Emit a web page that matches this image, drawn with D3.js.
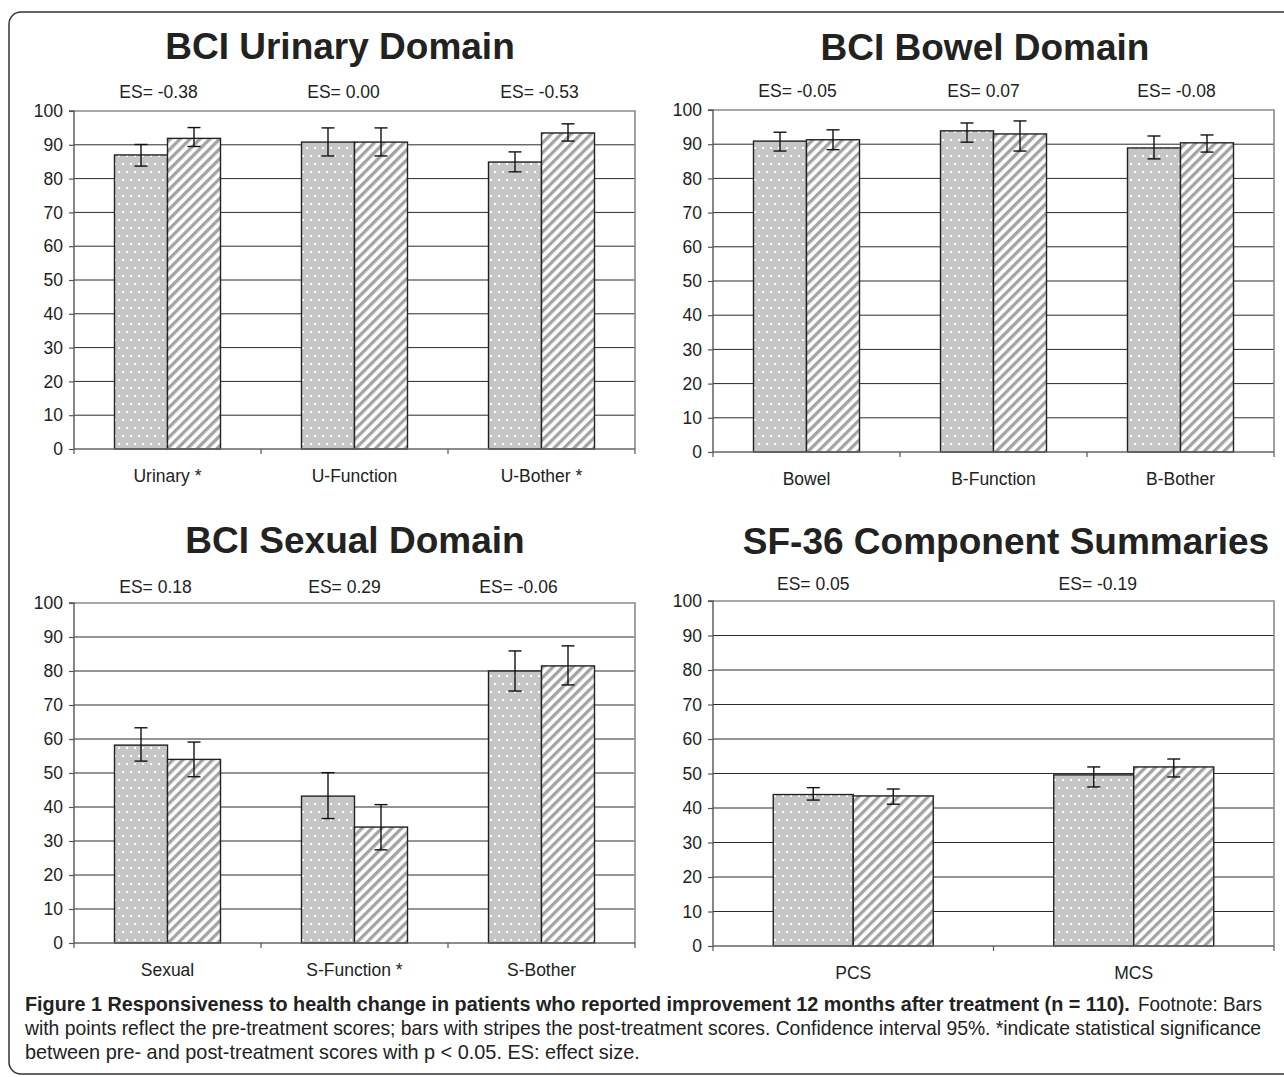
<!DOCTYPE html>
<html><head><meta charset="utf-8">
<script src="https://cdn.jsdelivr.net/npm/d3@7"></script>
<style>
html,body{margin:0;padding:0;background:#fff;}
svg{display:block;}
text{font-family:"Liberation Sans",Arial,Helvetica,sans-serif;fill:#222;}
</style></head>
<body>
<svg id="fig" width="1284" height="1077"></svg>
<script>
// ---------- DATA ----------
const yTicks = [0,10,20,30,40,50,60,70,80,90,100];

const urinaryCats   = ["Urinary *","U-Function","U-Bother *"];
const urinaryES     = ["ES= -0.38","ES= 0.00","ES= -0.53"];
const urinaryPre    = [87.0, 90.8, 84.9];
const urinaryPreCI  = [[83.7,90.1],[86.7,95.0],[82.0,87.9]];
const urinaryPost   = [91.9, 90.8, 93.5];
const urinaryPostCI = [[89.5,95.1],[86.7,95.0],[91.1,96.2]];

const bowelCats   = ["Bowel","B-Function","B-Bother"];
const bowelES     = ["ES= -0.05","ES= 0.07","ES= -0.08"];
const bowelPre    = [90.9, 93.9, 88.9];
const bowelPreCI  = [[88.0,93.5],[90.6,96.2],[85.7,92.4]];
const bowelPost   = [91.3, 93.0, 90.4];
const bowelPostCI = [[88.4,94.2],[88.0,96.8],[87.7,92.7]];

const sexualCats   = ["Sexual","S-Function *","S-Bother"];
const sexualES     = ["ES= 0.18","ES= 0.29","ES= -0.06"];
const sexualPre    = [58.2, 43.2, 80.0];
const sexualPreCI  = [[53.5,63.3],[36.6,50.1],[74.1,85.9]];
const sexualPost   = [54.0, 34.1, 81.5];
const sexualPostCI = [[48.9,59.1],[27.4,40.7],[75.9,87.4]];

const sfCats   = ["PCS","MCS"];
const sfES     = ["ES= 0.05","ES= -0.19"];
const sfPre    = [43.9, 49.6];
const sfPreCI  = [[42.3,45.9],[46.1,51.9]];
const sfPost   = [43.5, 51.9];
const sfPostCI = [[41.1,45.5],[49.0,54.2]];

const titles = ["BCI Urinary Domain","BCI Bowel Domain","BCI Sexual Domain","SF-36 Component Summaries"];

const captionBold = "Figure 1 Responsiveness to health change in patients who reported improvement 12 months after treatment (n = 110).";
const captionLines = [
  "Footnote: Bars",
  "with points reflect the pre-treatment scores; bars with stripes the post-treatment scores. Confidence interval 95%. *indicate statistical significance",
  "between pre- and post-treatment scores with p < 0.05. ES: effect size."
];

// ---------- LAYOUT ----------
const svg = d3.select("#fig");
const defs = svg.append("defs");

// dotted pattern (pre)
const pd = defs.append("pattern").attr("id","dots").attr("patternUnits","userSpaceOnUse")
  .attr("width",8).attr("height",16);
pd.append("rect").attr("width",8).attr("height",16).attr("fill","#c6c6c6");
pd.append("rect").attr("x",2).attr("y",3).attr("width",2).attr("height",2).attr("fill","#fff");
pd.append("rect").attr("x",6).attr("y",11).attr("width",2).attr("height",2).attr("fill","#fff");
// striped pattern (post)
const ps = defs.append("pattern").attr("id","stripes").attr("patternUnits","userSpaceOnUse")
  .attr("width",7).attr("height",7).attr("patternTransform","rotate(45)");
ps.append("rect").attr("width",7).attr("height",7).attr("fill","#fff");
ps.append("rect").attr("x",0).attr("width",3.3).attr("height",7).attr("fill","#a3a3a3");

// outer border
svg.append("rect").attr("x",9).attr("y",12).attr("width",1300).attr("height",1062)
  .attr("rx",12).attr("fill","none").attr("stroke","#333").attr("stroke-width",1.5);

const panels = [
  {cats:urinaryCats, es:urinaryES, pre:urinaryPre, preCI:urinaryPreCI, post:urinaryPost, postCI:urinaryPostCI,
   x0:74, x1:635, y0:449, y1:111, title:titles[0], tx:340, ty:59, esY:98, esDx:[-9,-11,-2], barW:53},
  {cats:bowelCats, es:bowelES, pre:bowelPre, preCI:bowelPreCI, post:bowelPost, postCI:bowelPostCI,
   x0:713, x1:1274, y0:452, y1:110, title:titles[1], tx:985, ty:60, esY:97, esDx:[-9,-10,-4], barW:53},
  {cats:sexualCats, es:sexualES, pre:sexualPre, preCI:sexualPreCI, post:sexualPost, postCI:sexualPostCI,
   x0:74, x1:635, y0:943, y1:603, title:titles[2], tx:355, ty:553, esY:593, esDx:[-12,-10,-23], barW:53},
  {cats:sfCats, es:sfES, pre:sfPre, preCI:sfPreCI, post:sfPost, postCI:sfPostCI,
   x0:713, x1:1274, y0:946, y1:601, title:titles[3], tx:1006, ty:554, esY:590, esDx:[-40,-36], barW:80}
];

panels.forEach(p => {
  const g = svg.append("g");
  const x = d3.scaleBand().domain(p.cats).range([p.x0,p.x1]);
  const y = d3.scaleLinear().domain([0,100]).range([p.y0,p.y1]);

  // gridlines
  g.append("g").selectAll("line").data(yTicks.filter(t=>t>0 && t<100)).join("line")
    .attr("x1",p.x0).attr("x2",p.x1).attr("y1",d=>y(d)).attr("y2",d=>y(d))
    .attr("stroke","#2a2a2a").attr("stroke-width",1);
  // plot area top/right border
  g.append("path").attr("d",`M${p.x0},${y(100)}H${p.x1}V${y(0)}`)
    .attr("fill","none").attr("stroke","#8a8a8a").attr("stroke-width",1.6);

  // bars
  const bw = p.barW;
  const series = [
    {vals:p.pre, ci:p.preCI, fill:"url(#dots)", off:-bw},
    {vals:p.post, ci:p.postCI, fill:"url(#stripes)", off:0}
  ];
  series.forEach(s => {
    const cx = (d,i) => x(p.cats[i]) + x.bandwidth()/2 + s.off;
    g.append("g").selectAll("rect").data(s.vals).join("rect")
      .attr("x",(d,i)=>cx(d,i)).attr("y",d=>y(d)).attr("width",bw).attr("height",d=>y(0)-y(d))
      .attr("fill",s.fill).attr("stroke","#222").attr("stroke-width",1.4);
  });
  series.forEach(s => {
    const mx = (i) => x(p.cats[i]) + x.bandwidth()/2 + s.off + bw/2;
    const eg = g.append("g").attr("stroke","#111").attr("stroke-width",1.4);
    s.ci.forEach((c,i) => {
      eg.append("line").attr("x1",mx(i)).attr("x2",mx(i)).attr("y1",y(c[0])).attr("y2",y(c[1]));
      eg.append("line").attr("x1",mx(i)-6.5).attr("x2",mx(i)+6.5).attr("y1",y(c[0])).attr("y2",y(c[0]));
      eg.append("line").attr("x1",mx(i)-6.5).attr("x2",mx(i)+6.5).attr("y1",y(c[1])).attr("y2",y(c[1]));
    });
  });

  // y axis
  const ya = d3.axisLeft(y).tickValues(yTicks).tickSize(5).tickPadding(6).tickFormat(d3.format("d"));
  const yg = g.append("g").attr("transform",`translate(${p.x0},0)`).call(ya);
  yg.select(".domain").attr("stroke","#555").attr("stroke-width",1.4).attr("d",`M-5,${y(100)}H0V${y(0)}`);
  yg.selectAll(".tick line").attr("stroke","#555").attr("stroke-width",1.2);
  yg.selectAll(".tick text").attr("font-size",17.5).attr("font-family","Liberation Sans, Arial, sans-serif").attr("fill","#222");

  // x axis (ticks at band boundaries)
  const xg = g.append("g");
  xg.append("line").attr("x1",p.x0).attr("x2",p.x1).attr("y1",y(0)).attr("y2",y(0))
    .attr("stroke","#666").attr("stroke-width",1.4);
  const bounds = p.cats.map(c=>x(c)).concat([p.x1]);
  xg.selectAll("line.tk").data(bounds).join("line").attr("class","tk")
    .attr("x1",d=>d).attr("x2",d=>d).attr("y1",y(0)).attr("y2",y(0)+5)
    .attr("stroke","#555").attr("stroke-width",1.2);
  xg.selectAll("text").data(p.cats).join("text")
    .attr("x",d=>x(d)+x.bandwidth()/2).attr("y",y(0)+33)
    .attr("text-anchor","middle").attr("font-size",17.5).text(d=>d);

  // ES labels
  g.append("g").selectAll("text").data(p.es).join("text")
    .attr("x",(d,i)=>x(p.cats[i])+x.bandwidth()/2+p.esDx[i]).attr("y",p.esY)
    .attr("text-anchor","middle").attr("font-size",17.5).text(d=>d);

  // title
  g.append("text").attr("x",p.tx).attr("y",p.ty).attr("text-anchor","middle")
    .attr("font-size",37).attr("font-weight","bold").attr("fill","#1a1a1a").text(p.title);
});

// caption: condensed look via horizontal scaling to the reference widths
function capLine(str, x, y, target, bold, color){
  const t = svg.append("text").attr("x",0).attr("y",0).attr("font-size",20)
    .attr("font-weight",bold?"bold":"normal").attr("fill",color).text(str);
  const w = t.node().getComputedTextLength();
  t.attr("transform",`translate(${x},${y}) scale(${target/w},1)`);
}
capLine(captionBold, 25, 1011, 1106, true, "#1a1a1a");
capLine(captionLines[0], 1138, 1011, 124, false, "#444");
capLine(captionLines[1], 25, 1035, 1237, false, "#444");
capLine(captionLines[2], 25, 1059, 615, false, "#444");
</script>
</body></html>
